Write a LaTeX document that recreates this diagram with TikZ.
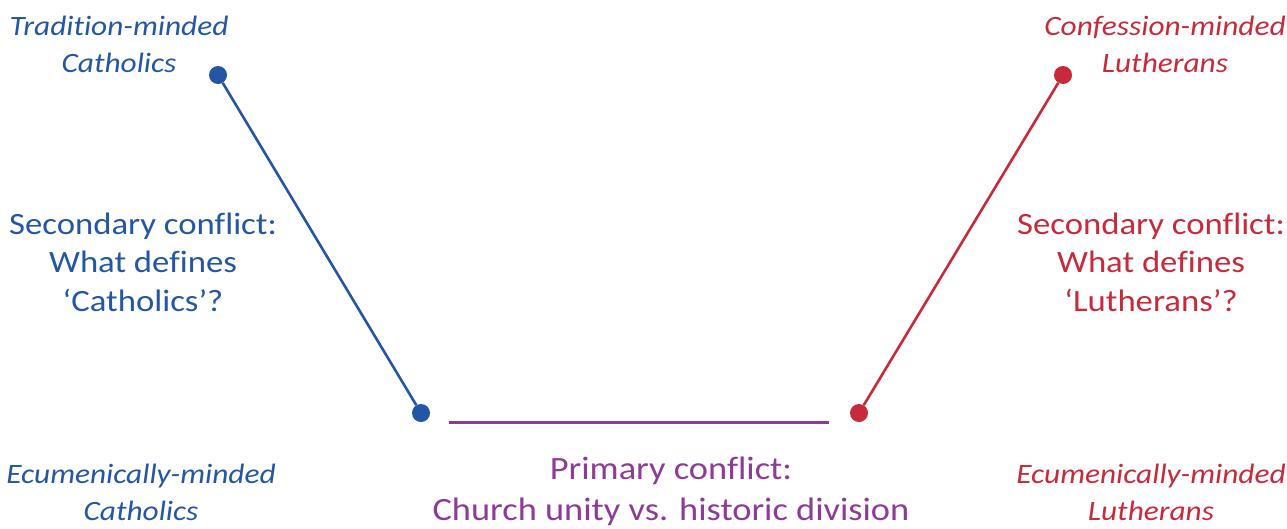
\documentclass[tikz,border=0pt]{standalone}
\usepackage{fontspec}
\setmainfont{Carlito}[FakeStretch=1.12,Ligatures=NoCommon]
\definecolor{cblue}{HTML}{2456A6}
\definecolor{cred}{HTML}{C92A3B}
\definecolor{cpurple}{HTML}{8E3A98}
\begin{document}
\begin{tikzpicture}[x=1pt,y=-1pt,
  dot/.style={circle,fill=#1,inner sep=0pt,minimum size=18pt},
  lab/.style={text=#1,align=center,font=\fontsize{28}{37}\selectfont\itshape,inner sep=0pt},
  conf/.style={text=#1,align=center,font=\fontsize{31}{38.5}\selectfont,inner sep=0pt}]
\useasboundingbox (0,0) rectangle (1287,528);
\node[dot=cblue] (bt) at (218,75) {};
\node[dot=cblue] (bb) at (421,413) {};
\node[dot=cred] (rb) at (859,413) {};
\node[dot=cred] (rt) at (1063,75) {};
\coordinate (pl) at (449,422);
\coordinate (pr) at (829,422);
\draw[cblue,line width=2.6pt] (bt) -- (bb);
\draw[cred,line width=2.6pt] (rt) -- (rb);
\draw[cpurple,line width=3pt] (pl) -- (pr);
\node[lab=cblue] (tc) at (119,44) {Tradition-minded\\Catholics};
\node[lab=cred] (cl) at (1165,44) {Confession-minded\\Lutherans};
\node[lab=cblue] (ec) at (141,492) {Ecumenically-minded\\Catholics};
\node[lab=cred] (el) at (1151,492) {Ecumenically-minded\\Lutherans};
\node[conf=cblue] (sc) at (143,262) {Secondary conflict:\\What defines\\‘Catholics’?};
\node[conf=cred] (sl) at (1151,262) {Secondary conflict:\\What defines\\‘Lutherans’?};
\node[conf=cpurple,font=\fontsize{32.5}{41}\selectfont] (pc) at (671,491) {Primary conflict:\\Church unity vs. historic division};
\end{tikzpicture}
\end{document}
